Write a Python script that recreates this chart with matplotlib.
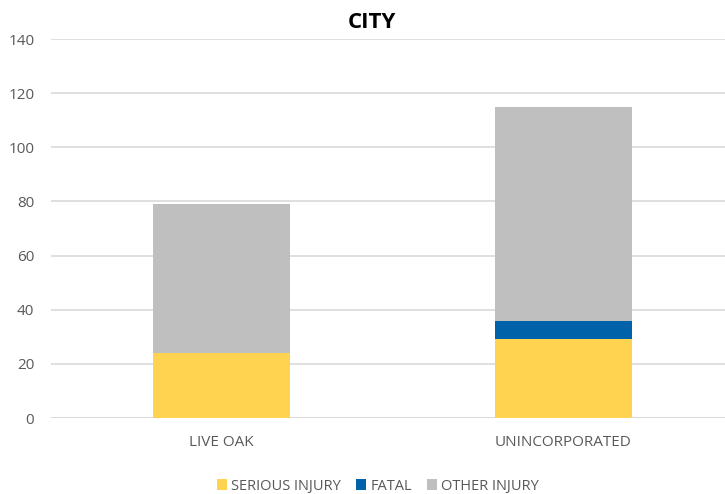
import matplotlib
matplotlib.use("Agg")
import matplotlib.pyplot as plt
import numpy as np
from matplotlib.patches import Patch

categories = ["LIVE OAK", "UNINCORPORATED"]
series_names = ["SERIOUS INJURY", "FATAL", "OTHER INJURY"]
serious = [24, 29]
fatal = [0, 7]
other = [55, 79]
colors = ["#FFD250", "#0063AA", "#BFBFBF"]

plt.rcParams['font.family'] = ['Open Sans', 'DejaVu Sans']

fig = plt.figure(figsize=(7.25, 4.94), dpi=100)
ax = fig.add_axes([51/725, 1-418/494, 683/725, (418-39)/494])

x = np.arange(len(categories))
w = 0.40
bottom = np.zeros(len(categories))
for vals, c in zip([serious, fatal, other], colors):
    ax.bar(x, vals, w, bottom=bottom, color=c, zorder=3)
    bottom += np.array(vals)

ax.set_xlim(-0.5, 1.5)
ax.set_ylim(0, 140)
ax.set_yticks(range(0, 141, 20))
ax.set_xticks(x)
ax.set_xticklabels(categories)
ax.grid(axis='y', color='#D9D9D9', linewidth=1.2, zorder=0)
for s in ax.spines.values():
    s.set_visible(False)
ax.axhline(0, color='#D9D9D9', linewidth=1.2, zorder=2)
ax.tick_params(axis='both', length=0, colors='#595959', labelsize=11)
ax.tick_params(axis='y', pad=12)
ax.tick_params(axis='x', pad=12)

fig.text(372/725, 1-23/494, "CITY", ha='center', va='center', fontsize=16, fontweight='bold', color='black')

handles = [Patch(facecolor=c, label=n) for c, n in zip(colors, series_names)]
leg = fig.legend(handles=handles, loc='center', bbox_to_anchor=(378/725, 1-486/494), ncol=3,
                 frameon=False, fontsize=10.5, handlelength=0.7, handleheight=0.7,
                 handletextpad=0.3, columnspacing=1.0)
for t in leg.get_texts():
    t.set_color('#595959')

fig.savefig("out.png", dpi=100)
